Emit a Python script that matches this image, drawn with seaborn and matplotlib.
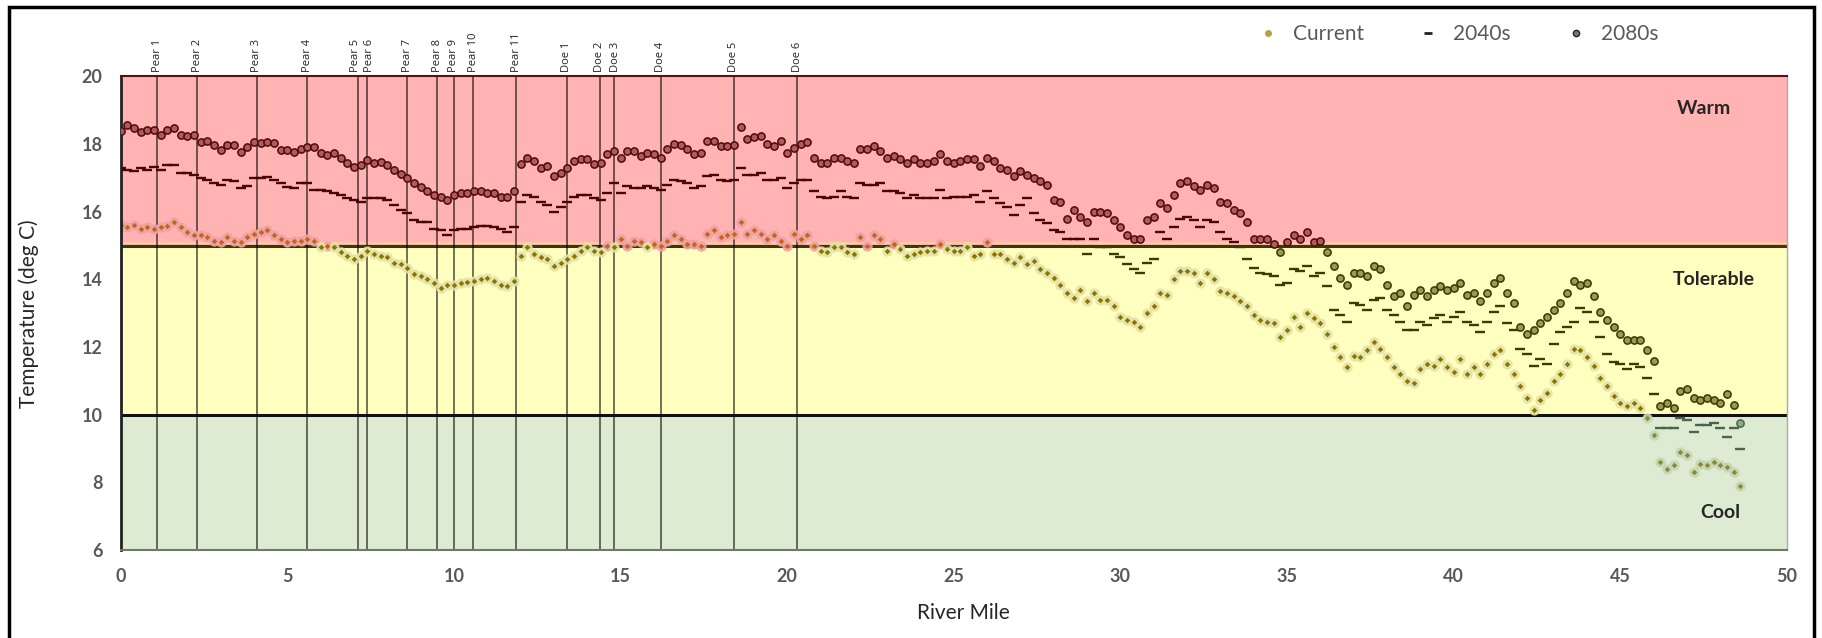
import numpy as np
import pandas as pd
import seaborn as sns
import matplotlib.pyplot as plt
from matplotlib.lines import Line2D
from matplotlib.patches import Rectangle

# water temperature along the river, one reading every 0.2 mile from mile 0
current_temp = [
    15.6, 15.55, 15.6, 15.5, 15.55, 15.5, 15.55, 15.58, 15.7, 15.55,
    15.4, 15.3, 15.3, 15.25, 15.15, 15.1, 15.25, 15.15, 15.1, 15.25,
    15.35, 15.4, 15.45, 15.3, 15.2, 15.1, 15.15, 15.15, 15.2, 15.15,
    14.97, 15.0, 14.95, 14.8, 14.7, 14.6, 14.7, 14.85, 14.75, 14.7,
    14.65, 14.5, 14.45, 14.35, 14.15, 14.1,
    14.0, 13.88, 13.75, 13.85, 13.85, 13.9, 13.93, 13.95, 14.0, 14.03,
    13.95, 13.85, 13.8, 13.95, 14.7, 14.95, 14.75, 14.65, 14.6, 14.4,
    14.5, 14.6, 14.7, 14.85, 14.95, 14.85, 14.8, 15.0, 14.95, 15.2,
    15.0, 15.15, 15.1, 14.95, 15.05, 15.0, 15.15, 15.3, 15.2, 15.05,
    15.05, 15.0, 15.35, 15.45, 15.25,
    15.3, 15.35, 15.7, 15.35, 15.45, 15.35, 15.2, 15.3, 15.15, 15.0,
    15.35, 15.2, 15.3, 15.0, 14.85, 14.8, 14.95, 14.95, 14.8, 14.75,
    15.25, 15.0, 15.3, 15.2, 14.85, 15.05, 14.9, 14.7, 14.75, 14.8,
    14.85, 14.85, 15.05, 14.9, 14.85, 14.85, 14.95, 14.7, 14.75, 15.1,
    14.75, 14.75, 14.6, 14.5, 14.65,
    14.45, 14.55, 14.3, 14.2, 14.05, 13.85, 13.6, 13.45, 13.7, 13.35,
    13.6, 13.4, 13.4, 13.2, 12.9, 12.8, 12.75, 12.6, 13.0, 13.2,
    13.6, 13.55, 14.0, 14.25, 14.25, 14.2, 13.9, 14.2, 14.0, 13.65,
    13.6, 13.5, 13.35, 13.2, 12.95, 12.8, 12.75, 12.7, 12.3, 12.5,
    12.9, 12.6, 13.0, 12.85, 12.7,
    12.4, 12.0, 11.7, 11.4, 11.75, 11.7, 11.9, 12.15, 11.95, 11.7,
    11.4, 11.2, 11.0, 10.95, 11.35, 11.5, 11.45, 11.65, 11.4, 11.25,
    11.65, 11.2, 11.4, 11.2, 11.5, 11.8, 11.9, 11.5, 11.2, 10.85,
    10.5, 10.15, 10.45, 10.65, 11.0, 11.2, 11.5, 11.95, 11.9, 11.7,
    11.45, 11.1, 10.85, 10.55, 10.35,
    10.25, 10.35, 10.2, 9.9, 9.4, 8.6, 8.4, 8.5, 8.9, 8.8,
    8.3, 8.55, 8.5, 8.6, 8.5, 8.45, 8.3, 7.9,
]

temp_2040s = [
    17.3, 17.25, 17.2, 17.28, 17.25, 17.33, 17.25, 17.38, 17.38, 17.15,
    17.15, 17.1, 16.99, 16.95, 16.85, 16.8, 16.94, 16.9, 16.69, 16.75,
    16.99, 16.99, 17.04, 16.95, 16.85, 16.74, 16.7, 16.84, 16.84, 16.64,
    16.64, 16.6, 16.55, 16.5, 16.4, 16.35, 16.3, 16.42, 16.42, 16.4,
    16.35, 16.2, 16.05, 15.95, 15.75, 15.7,
    15.7, 15.5, 15.45, 15.3, 15.45, 15.5, 15.5, 15.55, 15.58, 15.58,
    15.55, 15.5, 15.4, 15.55, 16.3, 16.5, 16.45, 16.3, 16.2, 16.0,
    16.15, 16.3, 16.45, 16.5, 16.5, 16.4, 16.35, 16.55, 16.85, 16.55,
    16.75, 16.7, 16.7, 16.75, 16.7, 16.65, 16.8, 16.95, 16.9, 16.85,
    16.7, 16.75, 17.05, 17.1, 16.95,
    16.9, 16.95, 17.3, 17.1, 17.1, 17.15, 16.95, 16.95, 17.0, 16.7,
    16.85, 16.95, 16.95, 16.6, 16.45, 16.4, 16.45, 16.6, 16.45, 16.4,
    16.85, 16.8, 16.8, 16.85, 16.6, 16.6, 16.55, 16.4, 16.5, 16.4,
    16.4, 16.4, 16.65, 16.4, 16.45, 16.45, 16.45, 16.5, 16.3, 16.6,
    16.4, 16.25, 16.15, 15.9, 16.2,
    16.4, 15.95, 15.75, 15.66, 15.45, 15.4, 15.2, 15.2, 15.2, 14.75,
    15.2, 14.95, 14.95, 14.75, 14.65, 14.45, 14.3, 14.2, 14.5, 14.6,
    15.4, 15.2, 15.55, 15.8, 15.85, 15.75, 15.55, 15.75, 15.7, 15.4,
    15.2, 15.1, 14.95, 14.6, 14.35, 14.2, 14.15, 14.1, 13.85, 13.9,
    14.3, 14.25, 14.4, 14.1, 14.2,
    13.8, 13.1, 12.95, 12.75, 13.3, 13.25, 13.1, 13.4, 13.45, 13.1,
    12.95, 12.75, 12.5, 12.5, 12.75, 12.65, 12.85, 12.95, 12.75, 12.9,
    13.05, 12.75, 12.65, 12.45, 12.75, 13.05, 13.2, 12.7, 12.5, 11.95,
    11.8, 11.45, 11.65, 11.5, 12.1, 12.45, 12.6, 12.75, 13.15, 13.05,
    12.75, 12.3, 11.8, 11.55, 11.5,
    11.35, 11.5, 11.4, 11.1, 10.6, 9.6, 9.6, 9.6, 9.9, 9.85,
    9.5, 9.7, 9.7, 9.75, 9.6, 9.35, 9.6, 9.0,
]

temp_2080s = [
    18.4, 18.57, 18.47, 18.37, 18.42, 18.42, 18.27, 18.42, 18.47, 18.27,
    18.24, 18.27, 18.07, 18.1, 17.97, 17.83, 17.97, 17.97, 17.78, 17.92,
    18.07, 18.02, 18.07, 18.02, 17.83, 17.83, 17.78, 17.85, 17.92, 17.92,
    17.75, 17.68, 17.73, 17.58, 17.43, 17.33, 17.38, 17.53, 17.43, 17.48,
    17.38, 17.23, 17.11, 16.99, 16.84, 16.74,
    16.6, 16.5, 16.45, 16.35, 16.5, 16.55, 16.55, 16.6, 16.62, 16.55,
    16.55, 16.45, 16.45, 16.6, 17.4, 17.6, 17.5, 17.3, 17.35, 17.05,
    17.15, 17.3, 17.5, 17.55, 17.55, 17.4, 17.45, 17.7, 17.8, 17.6,
    17.8, 17.8, 17.65, 17.75, 17.7, 17.6, 17.85, 18.0, 17.98, 17.85,
    17.7, 17.75, 18.1, 18.1, 17.95,
    17.95, 17.97, 18.5, 18.15, 18.2, 18.25, 18.0, 17.95, 18.1, 17.75,
    17.9, 18.0, 18.05, 17.6, 17.45, 17.45, 17.6, 17.6, 17.5, 17.45,
    17.85, 17.85, 17.95, 17.8, 17.6, 17.65, 17.55, 17.45, 17.55, 17.45,
    17.45, 17.5, 17.7, 17.5, 17.45, 17.5, 17.55, 17.55, 17.35, 17.6,
    17.5, 17.3, 17.25, 17.05, 17.2,
    17.1, 17.0, 16.9, 16.8, 16.35, 16.3, 15.8, 16.05, 15.85, 15.7,
    16.0, 16.0, 15.95, 15.75, 15.55, 15.3, 15.2, 15.2, 15.75, 15.85,
    16.25, 16.1, 16.5, 16.85, 16.9, 16.75, 16.65, 16.8, 16.7, 16.3,
    16.25, 16.05, 15.95, 15.7, 15.2, 15.2, 15.2, 15.05, 14.8, 15.1,
    15.3, 15.2, 15.4, 15.1, 15.15,
    14.8, 14.4, 14.05, 13.85, 14.2, 14.2, 14.1, 14.4, 14.3, 13.85,
    13.5, 13.6, 13.2, 13.55, 13.7, 13.5, 13.7, 13.8, 13.7, 13.75,
    13.9, 13.55, 13.6, 13.35, 13.6, 13.9, 14.05, 13.6, 13.3, 12.6,
    12.4, 12.5, 12.7, 12.9, 13.1, 13.3, 13.6, 13.95, 13.85, 13.9,
    13.5, 13.05, 12.8, 12.6, 12.4,
    12.2, 12.2, 12.2, 11.9, 11.6, 10.25, 10.35, 10.2, 10.7, 10.75,
    10.5, 10.45, 10.5, 10.45, 10.35, 10.6, 10.3, 9.75,
]

river_mile = np.round(np.arange(len(current_temp)) * 0.2, 1)

site_names = ['Pear 1', 'Pear 2', 'Pear 3', 'Pear 4', 'Pear 5', 'Pear 6', 'Pear 7',
              'Pear 8', 'Pear 9', 'Pear 10', 'Pear 11', 'Doe 1', 'Doe 2', 'Doe 3',
              'Doe 4', 'Doe 5', 'Doe 6']
site_miles = [1.1, 2.3, 4.08, 5.6, 7.12, 7.4, 8.6, 9.5, 10.0, 10.58, 11.87,
              13.38, 14.39, 14.8, 16.2, 18.4, 20.3]

zone_names = ['Warm', 'Tolerable', 'Cool']
zone_limits = [(15, 20), (10, 15), (6, 10)]


def zone_of(t):
    t = np.asarray(t)
    return np.where(t >= 15, 'Warm', np.where(t >= 10, 'Tolerable', 'Cool'))


def make_df(temps):
    return pd.DataFrame({'mile': river_mile, 'temp': temps, 'zone': zone_of(temps)})


df_cur = make_df(current_temp)
df_40 = make_df(temp_2040s)
df_80 = make_df(temp_2080s)

zone_fill = {'Warm': '#ffb3b3', 'Tolerable': '#ffffc0', 'Cool': '#dcebd2'}
cur_halo = {'Warm': '#eea2a2', 'Tolerable': '#e3e3a8', 'Cool': '#c5d6b6'}
cur_dot = {'Warm': '#c4651c', 'Tolerable': '#8c7400', 'Cool': '#8a8a38'}
dash_col = {'Warm': '#4a0606', 'Tolerable': '#3a3c00', 'Cool': '#4d634e'}
ring_edge = {'Warm': '#4d0a0a', 'Tolerable': '#383800', 'Cool': '#4a664a'}
ring_face = {'Warm': '#b25a5a', 'Tolerable': '#9a9a50', 'Cool': '#8fa88f'}

sns.set_style('white')
plt.rcParams['font.family'] = ['Lato', 'DejaVu Sans']

fig = plt.figure(figsize=(18.22, 6.38), dpi=100)
ax = fig.add_axes([0.0662, 0.1379, 0.9146, 0.7422])

for name, (lo, hi) in zip(zone_names, zone_limits):
    ax.axhspan(lo, hi, color=zone_fill[name], zorder=0)
ax.axhline(15.07, color='#ffcf9e', lw=1.2, zorder=1)
ax.axhline(15, color='#3a3a05', lw=2.2, zorder=1)
ax.axhline(10, color='#111111', lw=2.2, zorder=1)

# the two close pairs of labels are nudged apart a little
label_nudge = {'Pear 5': -0.06, 'Pear 6': 0.06, 'Doe 2': -0.03, 'Doe 3': 0.05}
for name, m in zip(site_names, site_miles):
    ax.axvline(m, color='black', alpha=0.6, lw=1.3, zorder=1.5)
    ax.text(m + label_nudge.get(name, 0), 20.12, name, rotation=90, ha='center',
            va='bottom', fontsize=8, color='#222222', family=['Open Sans', 'DejaVu Sans'])

for z in zone_names:
    sub = df_cur[df_cur.zone == z]
    sns.scatterplot(data=sub, x='mile', y='temp', ax=ax, marker='o', s=55,
                    color=cur_halo[z], linewidth=0, alpha=0.9, legend=False, zorder=2)
    sns.scatterplot(data=sub, x='mile', y='temp', ax=ax, marker='D', s=8,
                    color=cur_dot[z], linewidth=0, legend=False, zorder=2.1)

    sub = df_40[df_40.zone == z]
    sns.scatterplot(data=sub, x='mile', y='temp', ax=ax, marker='_', s=50,
                    color=dash_col[z], linewidth=1.7, legend=False, zorder=3)

    sub = df_80[df_80.zone == z]
    sns.scatterplot(data=sub, x='mile', y='temp', ax=ax, marker='o', s=27,
                    color=ring_face[z], edgecolor=ring_edge[z], linewidth=1.1,
                    legend=False, zorder=4)

ax.text(47.5, 19.05, 'Warm', ha='center', va='center', fontsize=14, fontweight='bold')
ax.text(47.8, 14.0, 'Tolerable', ha='center', va='center', fontsize=14, fontweight='bold')
ax.text(48.0, 7.1, 'Cool', ha='center', va='center', fontsize=14, fontweight='bold')

ax.set_xlim(0, 50)
ax.set_ylim(6, 20)
ax.set_xticks(range(0, 51, 5))
ax.set_yticks(range(6, 21, 2))
ax.tick_params(length=0, pad=13, labelsize=13, labelcolor='#595959')
plt.setp(ax.get_xticklabels() + ax.get_yticklabels(), fontweight='bold')

ax.set_xlabel('River Mile', fontsize=15, color='#262626')
ax.set_ylabel('Temperature (deg C)', fontsize=15, color='#262626')
ax.xaxis.set_label_coords(0.5055, -0.112)
ax.yaxis.set_label_coords(-0.049, 0.5)

ax.spines['top'].set_color('#5a1010')
ax.spines['top'].set_linewidth(1.5)
ax.spines['left'].set_color('#222222')
ax.spines['left'].set_linewidth(2)
ax.spines['bottom'].set_color('#6b7b6b')
ax.spines['bottom'].set_linewidth(1.5)
ax.spines['right'].set_color('#aaaaaa')
ax.spines['right'].set_linewidth(1)

handles = [
    Line2D([], [], ls='', marker='o', markersize=4, color='#b8a040'),
    Line2D([], [], ls='', marker='_', markersize=6, mew=2, color='#222222'),
    Line2D([], [], ls='', marker='o', markersize=4.5, mfc='#777777', mec='#222222'),
]
fig.legend(handles, ['Current', '2040s', '2080s'], loc='center',
           bbox_to_anchor=(0.8, 0.947), ncol=3, frameon=False, fontsize=15,
           labelcolor='#595959', handletextpad=0.7, columnspacing=2.6, handlelength=1.0)

fig.patches.append(Rectangle((0.0048, -0.05), 0.9908, 1.0395, transform=fig.transFigure,
                             fill=False, ec='black', lw=2.5))

fig.savefig('out.png', dpi=100)
